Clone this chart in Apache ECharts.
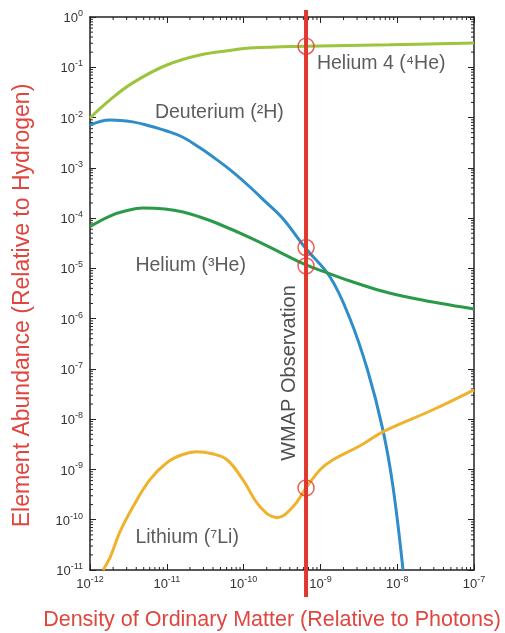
<!DOCTYPE html>
<html><head><meta charset="utf-8">
<script src="https://cdn.jsdelivr.net/npm/echarts@6/dist/echarts.min.js"></script>
<style>html,body{margin:0;padding:0;background:#fff}#c{width:505px;height:633px}</style>
</head><body><div id="c"></div>
<script>
// Data (x: baryon-to-photon ratio, y: abundance relative to H)
const X_MIN = 1e-12, X_MAX = 1e-7, Y_MIN = 1e-11, Y_MAX = 1;
const xTickValues = [1e-12,1e-11,1e-10,1e-9,1e-8,1e-7];
const yTickValues = [1e-11,1e-10,1e-9,1e-8,1e-7,1e-6,1e-5,1e-4,1e-3,1e-2,1e-1,1];
const wmapEta = 6.5e-10;
const helium4 = [[1e-12,9.8e-3],[1.82e-12,2.24e-2],[3.6e-12,4.9e-2],[1e-11,0.111],[2.7e-11,0.176],[7.2e-11,0.22],[1.2e-10,0.242],[6.5e-10,0.262],[8.1e-9,0.28],[1e-7,0.304]];
const deuterium = [[1e-12,7.1e-3],[1.82e-12,8.96e-3],[3.6e-12,8.2e-3],[6.0e-12,6.8e-3],[1e-11,5.4e-3],[1.6e-11,4.1e-3],[2.7e-11,2.5e-3],[4.5e-11,1.44e-3],[7.2e-11,8.3e-4],[1.2e-10,4.2e-4],[2.0e-10,2.0e-4],[3.2e-10,1.0e-4],[6.5e-10,2.45e-5],[1.33e-9,6.8e-6],[2.4e-9,1.04e-6],[4.1e-9,9.6e-8],[6.5e-9,6.2e-9],[8.8e-9,4.6e-10],[1.19e-8,1e-11]];
const helium3 = [[1e-12,6.8e-5],[1.82e-12,1.10e-4],[2.86e-12,1.38e-4],[4.9e-12,1.58e-4],[9.5e-12,1.51e-4],[1.63e-11,1.32e-4],[2.7e-11,1.05e-4],[4.5e-11,7.9e-5],[1.21e-10,4.1e-5],[3.26e-10,1.95e-5],[6.5e-10,1.17e-5],[1.33e-9,7.8e-6],[2.43e-9,5.6e-6],[6.5e-9,3.5e-6],[1.81e-8,2.45e-6],[4.87e-8,1.86e-6],[1e-7,1.55e-6]];
const lithium7 = [[1.48e-12,1e-11],[1.82e-12,1.76e-11],[2.46e-12,5.8e-11],[3.63e-12,1.81e-10],[6.0e-12,6.2e-10],[1e-11,1.36e-9],[1.58e-11,1.96e-9],[2.47e-11,2.25e-9],[3.88e-11,2.05e-9],[6.08e-11,1.56e-9],[9.8e-11,6.2e-10],[1.64e-10,1.81e-10],[2.72e-10,1.10e-10],[4.4e-10,1.81e-10],[6.5e-10,4.3e-10],[9.9e-10,9.9e-10],[1.46e-9,1.56e-9],[3.28e-9,2.96e-9],[6.5e-9,5.6e-9],[2.92e-8,1.54e-8],[1e-7,3.84e-8]];
const wmapPoints = [[wmapEta,0.262],[wmapEta,2.6e-5],[wmapEta,1.12e-5],[wmapEta,4.3e-10]];
const curveLabels = [
  {name:'Helium 4 (\u2074He)', value:[9.0e-10,0.116]},
  {name:'Deuterium (\u00B2H)', value:[7.0e-12,1.23e-2]},
  {name:'Helium (\u00B3He)', value:[3.9e-12,1.12e-5]},
  {name:'Lithium (\u2077Li)', value:[3.9e-12,4.4e-11]}
];
const wmapLabel = [{name:'WMAP Observation', value:[4.0e-10,8.3e-8]}];
const minorMult = [2,3,4,5,6,7,8,9];
const xDecades = [-12,-11,-10,-9,-8];
const yDecades = [-11,-10,-9,-8,-7,-6,-5,-4,-3,-2,-1];

const FONT = 'Liberation Sans, Arial, Helvetica, sans-serif';
const minorX = [], minorY = [];
xDecades.forEach(e => minorMult.forEach(m => minorX.push([m*Math.pow(10,e), Y_MIN])));
yDecades.forEach(e => minorMult.forEach(m => minorY.push([X_MIN, m*Math.pow(10,e)])));

function expLabel(v){ const e = Math.round(Math.log10(v)); return '{b|10}{s|' + e + '}'; }
const tickRich = { b:{fontSize:13, color:'#333', fontFamily:FONT, lineHeight:16, verticalAlign:'bottom'}, s:{fontSize:9, color:'#333', fontFamily:FONT, lineHeight:16, verticalAlign:'top'} };

const chart = echarts.init(document.getElementById('c'));
const lineStyle = (c) => ({ color:c, width:3 });
const frameAxis = { onZero:false, lineStyle:{color:'#222', width:1.5} };
chart.setOption({
  animation:false,
  backgroundColor:'#fff',
  grid:{ left:90, right:31, top:17, bottom:63, containLabel:false, outerBoundsMode:'none' },
  xAxis:[
    { type:'log', logBase:10, min:X_MIN, max:X_MAX, position:'bottom', axisLine:frameAxis,
      axisTick:{inside:true, length:6, lineStyle:{color:'#222'}, customValues:xTickValues},
      axisLabel:{margin:5, formatter:expLabel, rich:tickRich, customValues:xTickValues},
      splitLine:{show:false},
      name:'Density of Ordinary Matter (Relative to Photons)', nameLocation:'middle', nameGap:39,
      nameTextStyle:{color:'#e0463f', fontSize:21.5, fontFamily:FONT, padding:[0,20,0,0]} },
    { type:'log', logBase:10, min:X_MIN, max:X_MAX, position:'top', axisLine:frameAxis,
      axisTick:{inside:true, length:6, lineStyle:{color:'#222'}, customValues:xTickValues},
      axisLabel:{show:false}, splitLine:{show:false} }
  ],
  yAxis:[
    { type:'log', logBase:10, min:Y_MIN, max:Y_MAX, position:'left', axisLine:frameAxis,
      axisTick:{inside:true, length:6, lineStyle:{color:'#222'}, customValues:yTickValues},
      axisLabel:{margin:7, formatter:expLabel, rich:tickRich, customValues:yTickValues},
      splitLine:{show:false},
      name:'Element Abundance (Relative to Hydrogen)', nameLocation:'middle', nameGap:56,
      nameTextStyle:{color:'#e0463f', fontSize:23, fontFamily:FONT, padding:[0,24,0,0]} },
    { type:'log', logBase:10, min:Y_MIN, max:Y_MAX, position:'right', axisLine:frameAxis,
      axisTick:{inside:true, length:6, lineStyle:{color:'#222'}, customValues:yTickValues},
      axisLabel:{show:false}, splitLine:{show:false} }
  ],
  series:[
    { type:'custom', coordinateSystem:'cartesian2d', data:minorX, silent:true, z:1,
      renderItem:(p, api) => { const v = api.value(0); const b = api.coord([v, Y_MIN]); const t = api.coord([v, Y_MAX]);
        return {type:'group', children:[
          {type:'line', shape:{x1:b[0], y1:b[1], x2:b[0], y2:b[1]-3}, style:{stroke:'#222', lineWidth:1}},
          {type:'line', shape:{x1:t[0], y1:t[1], x2:t[0], y2:t[1]+3}, style:{stroke:'#222', lineWidth:1}}]}; } },
    { type:'custom', coordinateSystem:'cartesian2d', data:minorY, silent:true, z:1,
      renderItem:(p, api) => { const v = api.value(1); const l = api.coord([X_MIN, v]); const r = api.coord([X_MAX, v]);
        return {type:'group', children:[
          {type:'line', shape:{x1:l[0], y1:l[1], x2:l[0]+3, y2:l[1]}, style:{stroke:'#222', lineWidth:1}},
          {type:'line', shape:{x1:r[0], y1:r[1], x2:r[0]-3, y2:r[1]}, style:{stroke:'#222', lineWidth:1}}]}; } },
    { name:'Helium 4', type:'line', data:helium4, smooth:0.4, showSymbol:false, lineStyle:lineStyle('#9cc43c'), z:2 },
    { name:'Deuterium', type:'line', data:deuterium, smooth:0.4, showSymbol:false, lineStyle:lineStyle('#2f8dc9'), z:2 },
    { name:'Helium 3', type:'line', data:helium3, smooth:0.4, showSymbol:false, lineStyle:lineStyle('#2a9a48'), z:2 },
    { name:'Lithium 7', type:'line', data:lithium7, smooth:0.4, showSymbol:false, lineStyle:lineStyle('#f0b22c'), z:2 },
    { type:'custom', coordinateSystem:'cartesian2d', data:[[wmapEta, Y_MIN]], clip:false, silent:true, z:5,
      renderItem:(p, api) => { const b = api.coord([api.value(0), Y_MIN]); const t = api.coord([api.value(0), Y_MAX]);
        return {type:'line', shape:{x1:b[0], y1:b[1]+27, x2:t[0], y2:t[1]-7}, style:{stroke:'#e0382e', lineWidth:4}}; } },
    { type:'scatter', data:wmapPoints, symbol:'circle', symbolSize:16, silent:true, z:6,
      itemStyle:{color:'rgba(0,0,0,0)', borderColor:'#e0382e', borderWidth:1.5} },
    { type:'scatter', data:curveLabels, symbolSize:0, silent:true, z:7,
      label:{show:true, position:'right', distance:0, formatter:'{b}', color:'#333', fontSize:19.5, fontFamily:FONT} },
    { type:'scatter', data:wmapLabel, symbolSize:0, silent:true, z:7,
      label:{show:true, position:'inside', rotate:90, formatter:'{b}', color:'#222', fontSize:20, fontFamily:FONT} }
  ]
});
</script></body></html>
